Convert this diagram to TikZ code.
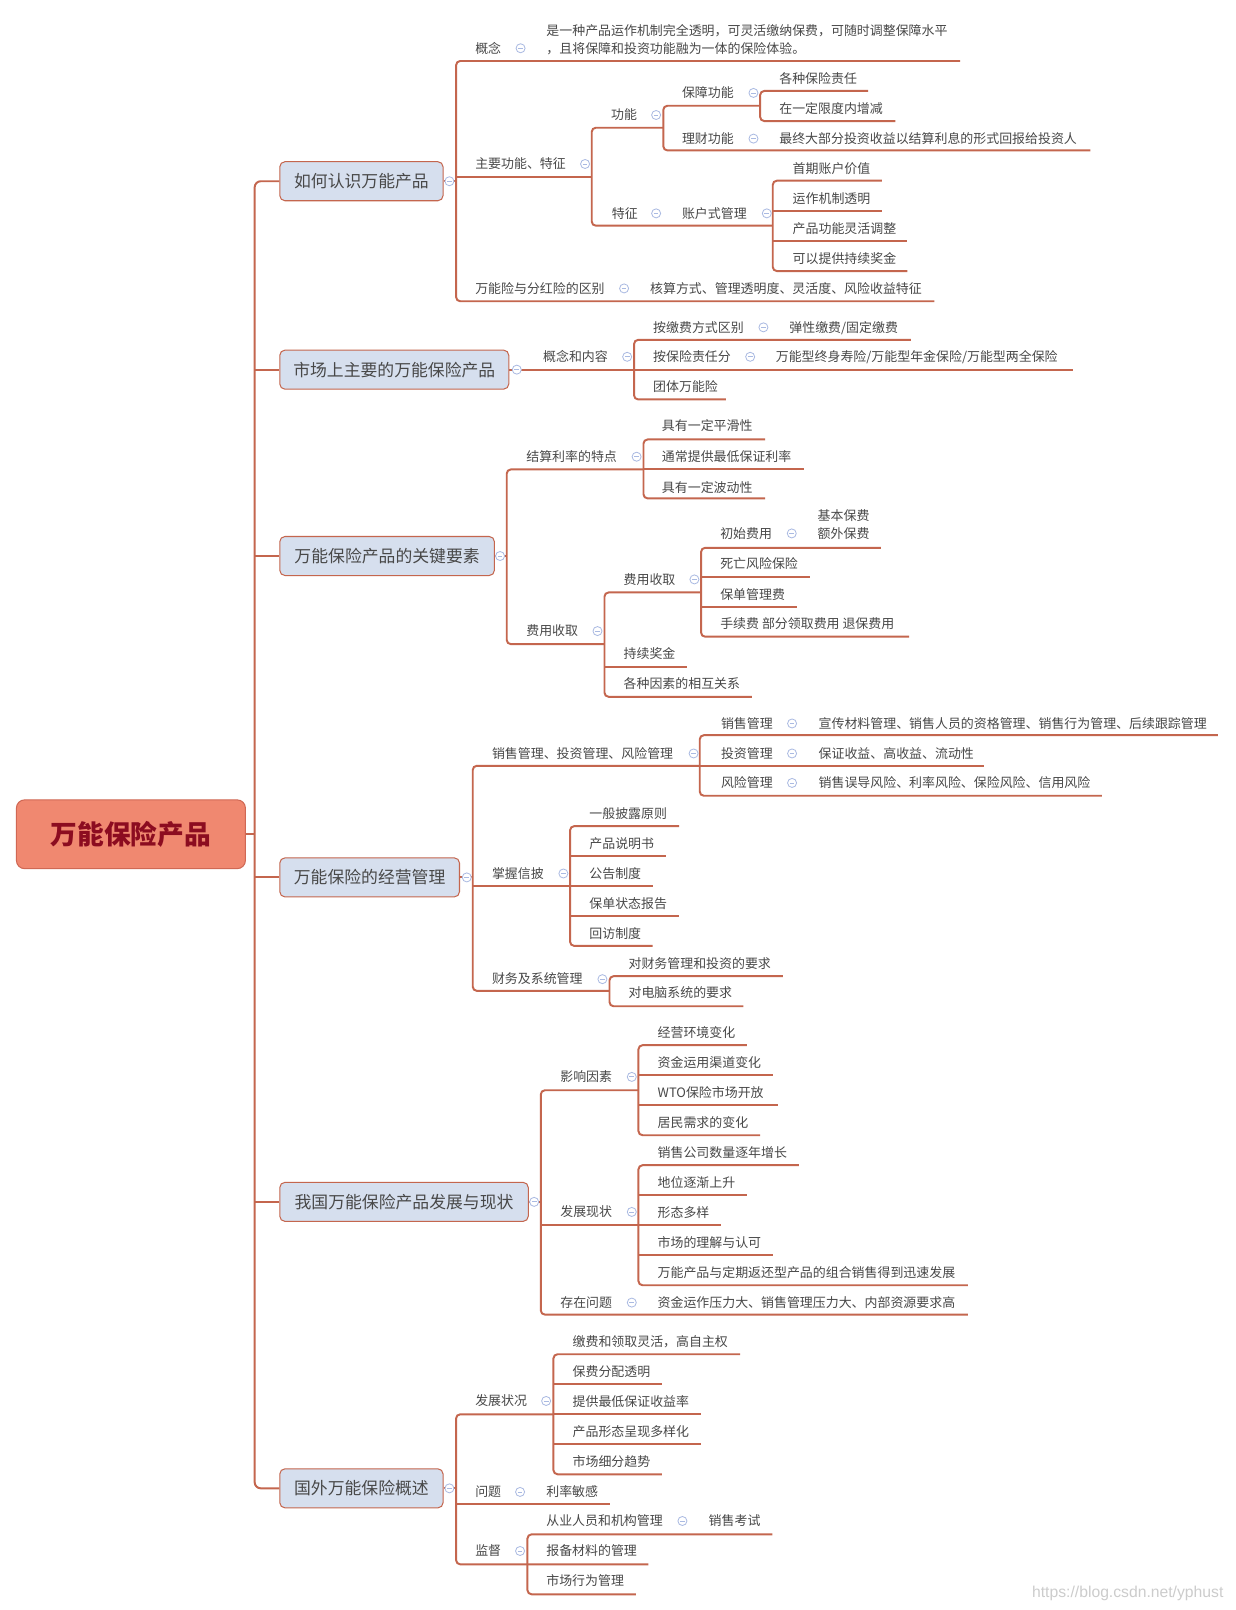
\documentclass[tikz,border=0pt]{standalone}
\usepackage{fontspec}
\setmainfont{Noto Sans CJK SC}
\newfontfamily\wmfont{Liberation Sans}
\definecolor{br}{RGB}{196,102,78}
\definecolor{txt}{RGB}{72,72,72}
\definecolor{icb}{RGB}{170,186,226}
\definecolor{tfill}{RGB}{214,223,238}
\definecolor{rfill}{RGB}{240,136,112}
\definecolor{rborder}{RGB}{208,104,84}
\definecolor{rtext}{RGB}{140,12,32}
\tikzset{
 brl/.style={draw=br, line width=1.9pt},
 lbl/.style={anchor=base west, inner sep=0pt, yshift=-4.7pt, text=txt, font=\fontsize{12.6}{15}\selectfont},
 icn/.style={draw=icb, line width=0.8pt},
 topic/.style={draw=br, line width=1pt, fill=tfill, rounded corners=5pt, minimum height=38pt, anchor=west, inner sep=0pt, text=txt, font=\fontsize{16.4}{19}\selectfont},
 rootbox/.style={draw=rborder, line width=1pt, fill=rfill, rounded corners=8pt, minimum width=223pt, minimum height=67pt, inner sep=0pt, text=rtext, font=\fontsize{26}{30}\selectfont\bfseries},
}
\newcommand\tx[4]{\node[lbl] (#1) at (#2,#3) {#4};}
\newcommand\ic[2]{\fill[white] (#1,#2) circle (4.4); \draw[icn] (#1,#2) circle (4.4); \draw[icn] (#1-2.3,#2) -- (#1+2.3,#2);}
\newcommand\hl[3]{\draw[brl] (#1,#3) -- (#2,#3);}
\newcommand\fk[5]{\draw[brl, rounded corners=4pt] (#3,#2) -- (#1,#2) -- (#1,#4) -- (#5,#4);}
\begin{document}
\begin{tikzpicture}[x=1pt,y=-1pt]
\useasboundingbox (0,0) rectangle (1203,1568);
\fill[white] (0,0) rectangle (1203,1568);

% root and main topics
\node[rootbox] (root) at (127.5,812.5) {万能保险产品};
\node[topic, minimum width=159pt] (t1) at (272,176.5) {如何认识万能产品};
\node[topic, minimum width=223pt] (t2) at (272,360) {市场上主要的万能保险产品};
\node[topic, minimum width=209pt] (t3) at (272,541.5) {万能保险产品的关键要素};
\node[topic, minimum width=175pt] (t4) at (272,854.5) {万能保险的经营管理};
\node[topic, minimum width=242pt] (t5) at (272,1170.5) {我国万能保险产品发展与现状};
\node[topic, minimum width=159pt] (t6) at (272,1449.5) {国外万能保险概述};

% spine
\coordinate (sp) at (248,812.5);
\draw[brl] (root.east) -- (sp);
\draw[brl, rounded corners=6pt] (t1.west) -- (248,176.5) -- (248,1449.5) -- (t6.west);
\draw[brl] (248,360) -- (t2.west);
\draw[brl] (248,541.5) -- (t3.west);
\draw[brl] (248,854.5) -- (t4.west);
\draw[brl] (248,1170.5) -- (t5.west);

% ---- T1
\draw[brl] (t1.east) -- (444.2,176.5);
\fk{444.2}{59.4}{935}{293.4}{910}
\hl{444.2}{576.3}{172}
\fk{576.3}{124.4}{646}{219.8}{752.6}
\fk{646}{103}{740.3}{146.5}{1062}
\fk{740.3}{88.6}{845.5}{117.9}{872}
\fk{752.6}{176}{858.8}{264}{883.6}
\hl{752.6}{858.8}{205.5}
\hl{752.6}{883.6}{234.8}

% ---- T2
\draw[brl] (t2.east) -- (617.5,360);
\hl{617.5}{1045}{360}
\fk{617.5}{331}{887}{389}{707}

% ---- T3
\draw[brl] (t3.east) -- (493.5,541.5);
\fk{493.5}{457.2}{626.7}{627.3}{588.7}
\fk{626.7}{428}{745.2}{485.4}{745.2}
\hl{626.7}{783.2}{457.2}
\fk{588.7}{577}{682.8}{678.6}{732.2}
\hl{588.7}{668.9}{649.4}
\fk{682.8}{533.5}{857.8}{620.1}{885.5}
\hl{682.8}{789}{561.7}
\hl{682.8}{776}{591}

% ---- T4
\draw[brl] (t4.east) -- (460.4,854.5);
\fk{460.4}{745.8}{681.5}{965}{593.6}
\hl{460.4}{555.2}{863}
\fk{681.5}{716}{1186}{775}{1073}
\hl{681.5}{958}{745.8}
\fk{555.2}{804.6}{661.4}{921.2}{635.7}
\hl{555.2}{648.4}{833.8}
\hl{555.2}{635.7}{863}
\hl{555.2}{661.4}{892.3}
\fk{593.6}{950.7}{762.4}{980}{724}

% ---- T5
\draw[brl] (t5.east) -- (526.7,1170.5);
\fk{526.7}{1061.8}{621.8}{1280.3}{942.6}
\hl{526.7}{621.8}{1193.3}
\fk{621.8}{1017.9}{727.3}{1105.6}{740.3}
\hl{621.8}{752.6}{1047.1}
\hl{621.8}{757.5}{1076.4}
\fk{621.8}{1134.8}{778}{1251.7}{942.6}
\hl{621.8}{727.3}{1164}
\hl{621.8}{702}{1193.3}
\hl{621.8}{752.6}{1222.5}

% ---- T6
\draw[brl] (t6.east) -- (444.2,1449.5);
\fk{444.2}{1377.4}{539}{1523.5}{631.5}
\hl{444.2}{594.2}{1464.4}
\fk{539}{1318.9}{720.8}{1435.8}{644.5}
\hl{539}{644.5}{1348.1}
\hl{539}{682.5}{1377.4}
\hl{539}{682.5}{1406.6}
\fk{513.7}{1494.3}{752.3}{1552.7}{619.2}

% topic icons
\ic{437.7}{176.5}
\ic{503.3}{360}
\ic{487}{541.5}
\ic{454.6}{854.5}
\ic{520.2}{1170.5}
\ic{437.7}{1449.5}

% ---- T1 texts
\tx{gn}{462.7}{47}{概念} \ic{507}{47}
\tx{gnA}{532}{30.2}{是一种产品运作机制完全透明，可灵活缴纳保费，可随时调整保障水平}
\tx{gnB}{532}{47.7}{，且将保障和投资功能融为一体的保险体验。}
\tx{zy}{462.7}{159.7}{主要功能、特征} \ic{569.8}{159.7}
\tx{gnn}{595}{112}{功能} \ic{639}{112}
\tx{bz}{664}{90.5}{保障功能} \ic{733.8}{90.5}
\tx{bz1}{758.8}{76.3}{各种保险责任}
\tx{bz2}{758.8}{105.5}{在一定限度内增减}
\tx{lc}{664}{135}{理财功能} \ic{733.8}{135}
\tx{lc1}{758.8}{135}{最终大部分投资收益以结算利息的形式回报给投资人}
\tx{tz}{595.8}{207.8}{特征} \ic{639}{207.8}
\tx{zh}{664}{207.8}{账户式管理} \ic{746.8}{207.8}
\tx{zh1}{771.8}{164}{首期账户价值}
\tx{zh2}{771.8}{193.2}{运作机制透明}
\tx{zh3}{771.8}{222.5}{产品功能灵活调整}
\tx{zh4}{771.8}{251.7}{可以提供持续奖金}
\tx{qb}{462.7}{280.9}{万能险与分红险的区别} \ic{607.8}{280.9}
\tx{qb1}{633}{280.9}{核算方式、管理透明度、灵活度、风险收益特征}

% ---- T2 texts
\tx{gnnr}{528.8}{347.5}{概念和内容} \ic{610.8}{347.5}
\tx{jf}{636}{318.8}{按缴费方式区别} \ic{743.5}{318.8}
\tx{jf1}{768.6}{318.8}{弹性缴费/固定缴费}
\tx{zr}{636}{347.5}{按保险责任分} \ic{730.6}{347.5}
\tx{zr1}{755.4}{347.5}{万能型终身寿险/万能型年金保险/万能型两全保险}
\tx{tt}{636}{376.5}{团体万能险}

% ---- T3 texts
\tx{js}{512.4}{444.8}{结算利率的特点} \ic{620}{444.8}
\tx{js1}{644.5}{415}{具有一定平滑性}
\tx{js2}{644.5}{444.8}{通常提供最低保证利率}
\tx{js3}{644.5}{474.7}{具有一定波动性}
\tx{fy}{512.4}{614.6}{费用收取} \ic{581.9}{614.6}
\tx{fyb}{607.2}{564.3}{费用收取} \ic{676.3}{564.3}
\tx{cs}{701.3}{519.5}{初始费用} \ic{771.1}{519.5}
\tx{cs1}{796.2}{502.3}{基本保费}
\tx{cs2}{796.2}{519.5}{额外保费}
\tx{sw}{701.3}{549.4}{死亡风险保险}
\tx{bd}{701.3}{579}{保单管理费}
\tx{sx}{701.3}{607.8}{手续费 部分领取费用 退保费用}
\tx{cx}{607.2}{637}{持续奖金}
\tx{gz}{607.2}{666.3}{各种因素的相互关系}

% ---- T4 texts
\tx{xs}{479}{733.8}{销售管理、投资管理、风险管理} \ic{675.5}{733.8}
\tx{xg}{702}{704.6}{销售管理} \ic{771.4}{704.6}
\tx{xg1}{797.1}{704.6}{宣传材料管理、销售人员的资格管理、销售行为管理、后续跟踪管理}
\tx{tg}{702}{733.8}{投资管理} \ic{771.4}{733.8}
\tx{tg1}{797.1}{733.8}{保证收益、高收益、流动性}
\tx{fg}{702}{762.5}{风险管理} \ic{771.4}{762.5}
\tx{fg1}{797.1}{762.5}{销售误导风险、利率风险、保险风险、信用风险}
\tx{zw}{479}{850.7}{掌握信披} \ic{548.7}{850.7}
\tx{zw1}{573.8}{792.3}{一般披露原则}
\tx{zw2}{573.8}{821.5}{产品说明书}
\tx{zw3}{573.8}{850.7}{公告制度}
\tx{zw4}{573.8}{879.9}{保单状态报告}
\tx{zw5}{573.8}{909.1}{回访制度}
\tx{cw}{479}{953.6}{财务及系统管理} \ic{586.7}{953.6}
\tx{cw1}{612}{938.4}{对财务管理和投资的要求}
\tx{cw2}{612}{966.6}{对电脑系统的要求}

% ---- T5 texts
\tx{yx}{545.5}{1048.8}{影响因素} \ic{615.3}{1048.8}
\tx{yx1}{640.3}{1005.6}{经营环境变化}
\tx{yx2}{640.3}{1034.8}{资金运用渠道变化}
\tx{yx3}{640.3}{1064}{WTO保险市场开放}
\tx{yx4}{640.3}{1093.3}{居民需求的变化}
\tx{fz}{545.5}{1180.3}{发展现状} \ic{615.3}{1180.3}
\tx{fz1}{640.3}{1122.5}{销售公司数量逐年增长}
\tx{fz2}{640.3}{1151.7}{地位逐渐上升}
\tx{fz3}{640.3}{1180.9}{形态多样}
\tx{fz4}{640.3}{1210.1}{市场的理解与认可}
\tx{fz5}{640.3}{1239.4}{万能产品与定期返还型产品的组合销售得到迅速发展}
\tx{cz}{545.5}{1268.6}{存在问题} \ic{615.3}{1268.6}
\tx{cz1}{640.3}{1268.6}{资金运作压力大、销售管理压力大、内部资源要求高}

% ---- T6 texts
\tx{fk}{462.7}{1364.4}{发展状况} \ic{531.9}{1364.4}
\tx{fk1}{557.5}{1306.9}{缴费和领取灵活，高自主权}
\tx{fk2}{557.5}{1336.1}{保费分配透明}
\tx{fk3}{557.5}{1365.3}{提供最低保证收益率}
\tx{fk4}{557.5}{1394.6}{产品形态呈现多样化}
\tx{fk5}{557.5}{1423.8}{市场细分趋势}
\tx{wt}{462.7}{1453}{问题} \ic{506.5}{1453}
\tx{wt1}{531.9}{1453}{利率敏感}
\tx{jd}{462.7}{1510.5}{监督} \ic{506.5}{1510.5}
\tx{jd1}{531.9}{1481.3}{从业人员和机构管理} \ic{664.6}{1481.3}
\tx{jd2}{690}{1481.3}{销售考试}
\tx{jd3}{531.9}{1510.5}{报备材料的管理}
\tx{jd4}{531.9}{1539.7}{市场行为管理}

% watermark
\node[anchor=base west, inner sep=0pt, text=black!20, font=\wmfont\fontsize{15.3}{18}\selectfont] (wm) at (1005,1556) {https://blog.csdn.net/yphust};
\end{tikzpicture}
\end{document}
